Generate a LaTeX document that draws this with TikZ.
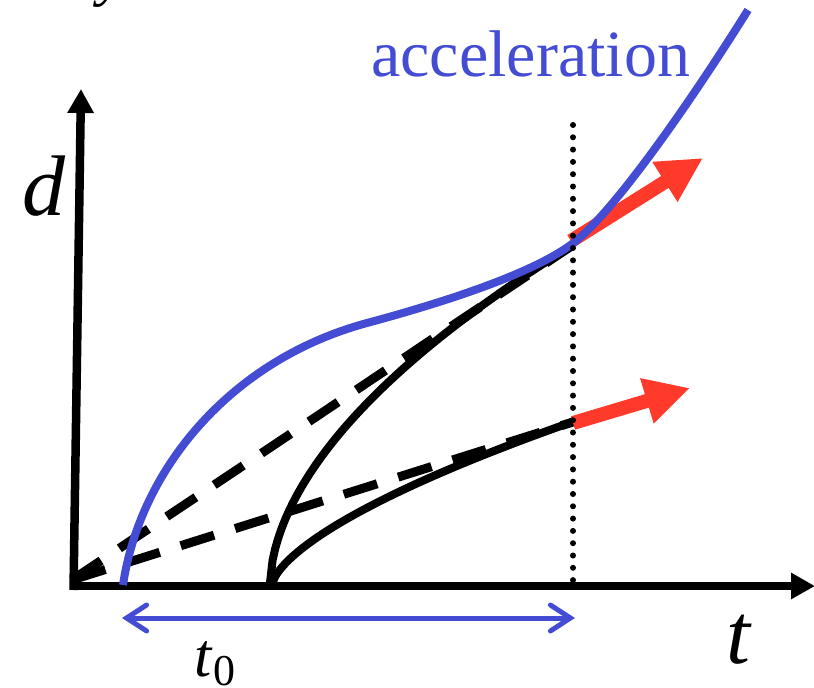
\documentclass[tikz,border=0pt]{standalone}
\usepackage{fontspec}
\setmainfont{Liberation Serif}
\usetikzlibrary{arrows.meta}
\definecolor{accblue}{RGB}{67,76,211}
\definecolor{tanred}{RGB}{255,58,42}
\begin{document}
\begin{tikzpicture}[x=1pt,y=-1pt,
  axis/.style={line width=8.5pt, -{Triangle[length=24pt,width=25pt]}},
  curveblk/.style={line width=8pt},
  chord/.style={line width=9pt, dash pattern=on 35pt off 22pt},
  tangent/.style={line width=14pt, tanred, -{Triangle[length=45pt,width=44pt]}},
  accel/.style={line width=8pt, accblue},
  marker/.style={line width=6pt, line cap=round, dash pattern=on 0pt off 12.3pt},
  span/.style={line width=5pt, accblue, {Straight Barb[length=20pt,width=26pt,line cap=round]}-{Straight Barb[length=20pt,width=26pt,line cap=round]}},
  lbl/.style={inner sep=0pt, anchor=base west}]
\useasboundingbox (0,0) rectangle (814,688);
% coordinates
\coordinate (O) at (72,580);
\coordinate (P1) at (573,245);
\coordinate (P2) at (573,422);
% labels
\node[lbl, font=\fontsize{60}{60}\selectfont\itshape] (ytop) at (98,-5.5) {y};
\node[lbl, font=\fontsize{86}{86}\selectfont\itshape] (dl) at (22,215) {d};
\node[lbl, font=\fontsize{86}{86}\selectfont\itshape] (tl) at (726,663) {t};
\node[lbl, font=\fontsize{66}{66}\selectfont, text=accblue] (acc) at (371,76) {acceleration};
\node[lbl, font=\fontsize{62}{62}\selectfont] (t0) at (194,676) {\textit{t}\kern1pt\raisebox{-9pt}{\fontsize{44}{44}\selectfont 0}};
% axes
\draw[axis] (70,586) -- (815,586);
\draw[axis] (73.5,590) -- (81,89);
% chords
\draw[chord] (O) -- (P1);
\draw[chord] (O) -- (P2);
% black curves
\draw[curveblk] (270,585) -- plot[domain=0.05:303, samples=120, variable=\u] ({270+\u},{585-14.68*pow(\u,0.55)});
\draw[curveblk] (272,585) -- plot[domain=0.05:301, samples=120, variable=\u] ({272+\u},{585-4.0*pow(\u,0.65)});
% tangents
\draw[tangent] (571,241) -- (703,158);
\draw[tangent] (573,423) -- (690,388);
% acceleration curve
\draw[accel] (123,585) .. controls (140,470) and (230,360) .. (367,323)
  .. controls (440,303.3) and (530,275) .. (572,244)
  .. controls (614,213) and (695,95) .. (748,10);
% marker
\draw[marker] (573,125) -- (573,583);
% span
\draw[span] (122,618) -- (575,618);
\end{tikzpicture}
\end{document}
